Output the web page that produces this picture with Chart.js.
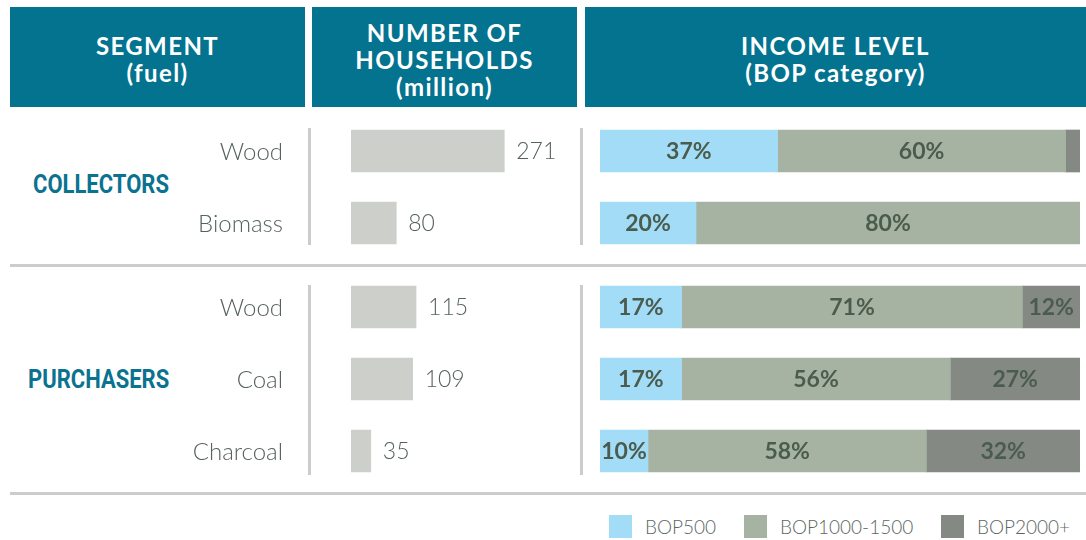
<!DOCTYPE html>
<html>
<head>
<meta charset="utf-8">
<script src="https://cdn.jsdelivr.net/npm/chart.js@4.4.1/dist/chart.umd.min.js"></script>
<style>
  html, body { margin:0; padding:0; background:#ffffff; }
  body { width:1086px; height:540px; position:relative; overflow:hidden; font-family: Lato, "Open Sans", sans-serif; }
  .hdr { position:absolute; top:7px; height:100px; background:#047390; color:#fff; display:flex; align-items:center; justify-content:center; text-align:center; font-weight:700; font-size:24px; line-height:27px; letter-spacing:1.4px; padding-top:4px; box-sizing:border-box; }
  .line { position:absolute; background:#cccccc; }
  .grp { position:absolute; color:#0b7290; font-family:Roboto, "Liberation Sans", sans-serif; font-weight:700; font-size:25px; line-height:25px; transform:scaleX(0.88); transform-origin:left center; white-space:nowrap; }
  canvas { position:absolute; }
  .legend { position:absolute; top:515px; height:23px; display:flex; align-items:center; font-weight:300; font-size:19px; color:#5c6763; }
  .sw { width:23px; height:23px; display:inline-block; margin-right:13px; }
</style>
</head>
<body>
<div class="hdr" style="left:10px;width:295px;">SEGMENT<br>(fuel)</div>
<div class="hdr" style="left:312px;width:265px;">NUMBER OF<br>HOUSEHOLDS<br>(million)</div>
<div class="hdr" style="left:585px;width:501px;">INCOME LEVEL<br>(BOP category)</div>

<div class="line" style="left:308px;top:128px;width:3px;height:117px;"></div>
<div class="line" style="left:580px;top:128px;width:3px;height:117px;"></div>
<div class="line" style="left:308px;top:285px;width:3px;height:190px;"></div>
<div class="line" style="left:580px;top:285px;width:3px;height:190px;"></div>
<div class="line" style="left:10px;top:264px;width:1076px;height:3px;"></div>
<div class="line" style="left:10px;top:492px;width:1076px;height:3px;"></div>

<div class="grp" id="g0" style="left:33px;top:172px;"></div>
<div class="grp" id="g1" style="left:28px;top:367px;"></div>

<canvas id="hc" width="571" height="144" style="left:0px;top:115px;"></canvas>
<canvas id="ic" width="480" height="144" style="left:600px;top:115px;"></canvas>
<canvas id="hp" width="571" height="216" style="left:0px;top:271px;"></canvas>
<canvas id="ip" width="480" height="216" style="left:600px;top:271px;"></canvas>

<div id="legend"></div>

<script>
// ---- data ----
const groupNames = ['COLLECTORS', 'PURCHASERS'];
const collectorFuels = ['Wood', 'Biomass'];
const collectorHouseholds = [271, 80];
const collectorBop500 = [37, 20];
const collectorBop1000 = [60, 80];
const collectorBop2000 = [3, 0];
const purchaserFuels = ['Wood', 'Coal', 'Charcoal'];
const purchaserHouseholds = [115, 109, 35];
const purchaserBop500 = [17, 17, 10];
const purchaserBop1000 = [71, 56, 58];
const purchaserBop2000 = [12, 27, 32];
const seriesNames = ['BOP500', 'BOP1000-1500', 'BOP2000+'];

// ---- styles ----
const seriesColors = ['#a3dcf6', '#a6b3a2', '#858984'];
const houseColor = '#cdcfca';
const lightText = '#56625e';
const pctText = '#4a5c4e';
const BAR = 42;
const FONT = 'Lato, "Open Sans", sans-serif';

Chart.defaults.font.family = FONT;

// fuel names (category ticks) + household values
const houseLabels = {
  id: 'houseLabels',
  afterDatasetsDraw(chart) {
    const ctx = chart.ctx;
    const ds = chart.data.datasets[0];
    const meta = chart.getDatasetMeta(0);
    const yScale = chart.scales.y;
    ctx.save();
    ctx.textBaseline = 'middle';
    ctx.fillStyle = lightText;
    // category labels, right-aligned left of the plot area
    ctx.font = '300 24px ' + FONT;
    ctx.textAlign = 'right';
    chart.data.labels.forEach((lab, i) => {
      ctx.fillText(lab, chart.chartArea.left - 68, yScale.getPixelForValue(i) + 1);
    });
    // values at bar ends
    ctx.font = '300 23px ' + FONT;
    ctx.textAlign = 'left';
    meta.data.forEach((el, i) => {
      ctx.fillText(String(ds.data[i]), el.x + 12, el.y + 1);
    });
    ctx.restore();
  }
};

const pctLabels = {
  id: 'pctLabels',
  afterDatasetsDraw(chart) {
    const ctx = chart.ctx;
    ctx.save();
    ctx.font = '700 23px ' + FONT;
    ctx.fillStyle = pctText;
    ctx.textAlign = 'center';
    ctx.textBaseline = 'middle';
    chart.data.datasets.forEach((ds, di) => {
      chart.getDatasetMeta(di).data.forEach((el, i) => {
        const v = ds.data[i];
        if (v >= 5) {
          const p = el.getProps(['x', 'base', 'y'], true);
          ctx.fillText(v + '%', (p.x + p.base) / 2, p.y + 1);
        }
      });
    });
    ctx.restore();
  }
};

function householdChart(id, fuels, values) {
  return new Chart(document.getElementById(id), {
    type: 'bar',
    data: {
      labels: fuels,
      datasets: [{ data: values, backgroundColor: houseColor, barThickness: BAR, borderWidth: 0 }]
    },
    options: {
      indexAxis: 'y',
      responsive: false,
      animation: false,
      devicePixelRatio: 1,
      layout: { padding: { left: 351, right: 0, top: 0, bottom: 0 } },
      plugins: { legend: { display: false }, tooltip: { enabled: false } },
      scales: {
        x: { display: false, min: 0, max: 389 },
        y: { display: false }
      }
    },
    plugins: [houseLabels]
  });
}

function incomeChart(id, fuels, a, b, c) {
  const sets = [a, b, c].map((d, k) => ({
    label: seriesNames[k], data: d, backgroundColor: seriesColors[k], barThickness: BAR, borderWidth: 0
  }));
  return new Chart(document.getElementById(id), {
    type: 'bar',
    data: { labels: fuels, datasets: sets },
    options: {
      indexAxis: 'y',
      responsive: false,
      animation: false,
      devicePixelRatio: 1,
      layout: { padding: 0 },
      plugins: { legend: { display: false }, tooltip: { enabled: false } },
      scales: {
        x: { display: false, stacked: true, min: 0, max: 100 },
        y: { display: false, stacked: true }
      }
    },
    plugins: [pctLabels]
  });
}

householdChart('hc', collectorFuels, collectorHouseholds);
incomeChart('ic', collectorFuels, collectorBop500, collectorBop1000, collectorBop2000);
householdChart('hp', purchaserFuels, purchaserHouseholds);
incomeChart('ip', purchaserFuels, purchaserBop500, purchaserBop1000, purchaserBop2000);

document.getElementById('g0').textContent = groupNames[0];
document.getElementById('g1').textContent = groupNames[1];

// legend
const legLeft = [609, 744, 941];
const lg = document.getElementById('legend');
seriesNames.forEach((n, k) => {
  const d = document.createElement('div');
  d.className = 'legend';
  d.style.left = legLeft[k] + 'px';
  d.innerHTML = '<span class="sw" style="background:' + seriesColors[k] + '"></span>' + n;
  lg.appendChild(d);
});
</script>
</body>
</html>
